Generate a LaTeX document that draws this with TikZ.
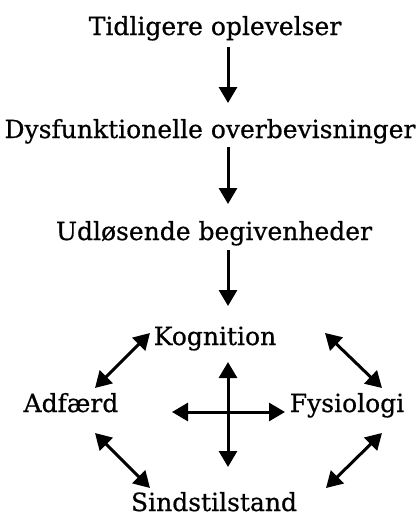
\documentclass[tikz,border=0pt]{standalone}
\usepackage{fontspec}
\setmainfont{DejaVu Serif}
\newfontfamily\lblfont{DejaVu Serif}[FakeBold=0.6]
\usetikzlibrary{arrows.meta}
\begin{document}
\begin{tikzpicture}[x=1pt,y=-1pt,
  lbl/.style={anchor=base,inner sep=0pt,font=\lblfont\fontsize{25}{30}\selectfont},
  tip/.tip={Triangle[length=16pt,width=18pt]},
  arr/.style={line width=3pt,-tip},
  darr/.style={line width=3pt,tip-tip}]
\useasboundingbox (0,0) rectangle (420,517);
\node[lbl] (t) at (215,35) {Tidligere oplevelser};
\node[lbl] (d) at (210,138) {Dysfunktionelle overbevisninger};
\node[lbl] (u) at (214,240) {Udløsende begivenheder};
\node[lbl] (k) at (215,345) {Kognition};
\node[lbl] (a) at (71,412) {Adfærd};
\node[lbl] (f) at (347,412) {Fysiologi};
\node[lbl] (s) at (214,511) {Sindstilstand};
% vertical chain
\coordinate (t1) at (228,47); \coordinate (t2) at (228,103);
\coordinate (d1) at (228,147); \coordinate (d2) at (228,204);
\coordinate (u1) at (228,250); \coordinate (u2) at (228,306);
\draw[arr] (t1) -- (t2);
\draw[arr] (d1) -- (d2);
\draw[arr] (u1) -- (u2);
% cross
\coordinate (cn) at (228,362); \coordinate (cs) at (228,467);
\coordinate (cw) at (172,412); \coordinate (ce) at (285,412);
\draw[darr] (cn) -- (cs);
\draw[darr] (cw) -- (ce);
% diagonals
\coordinate (ka) at (150,333); \coordinate (ak) at (95,388);
\coordinate (kf) at (325,333); \coordinate (fk) at (382,388);
\coordinate (as) at (95,433); \coordinate (sa) at (150,488);
\coordinate (fs) at (382,433); \coordinate (sf) at (326,488);
\draw[darr] (ak) -- (ka);
\draw[darr] (kf) -- (fk);
\draw[darr] (as) -- (sa);
\draw[darr] (sf) -- (fs);
\end{tikzpicture}
\end{document}
